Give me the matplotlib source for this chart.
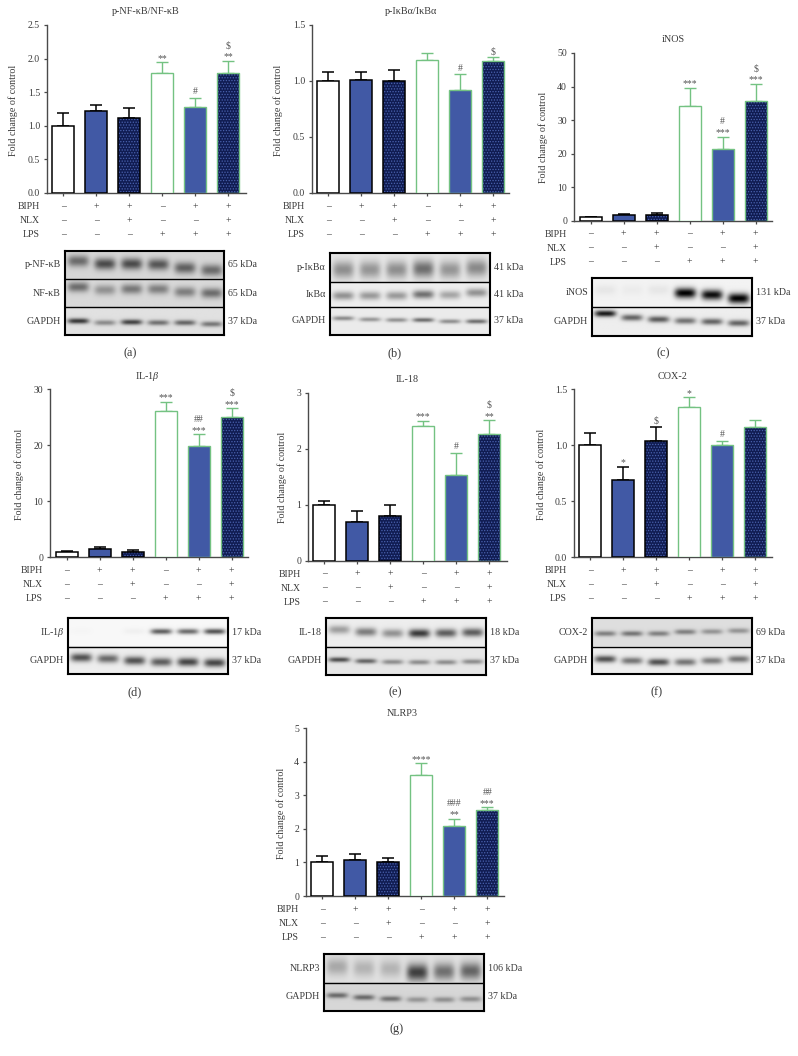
import numpy as np
import matplotlib
matplotlib.use('Agg')
import matplotlib.pyplot as plt

plt.rcParams['font.family'] = ['Liberation Serif', 'DejaVu Serif']
plt.rcParams['mathtext.fontset'] = 'custom'
plt.rcParams['mathtext.rm'] = 'Liberation Serif'
plt.rcParams['mathtext.it'] = 'Liberation Serif:italic'
plt.rcParams['hatch.linewidth'] = 0.6

figW, figH = 798, 1056
textCol = '#3a3a3a'
axisCol = '#4a4a4a'
blue = '#4159a5'
navy = '#101c52'
dots = '#4a62ae'
green = '#74c282'

biph = ['–', '+', '+', '–', '+', '+']
nlx = ['–', '–', '+', '–', '–', '+']
lps = ['–', '–', '–', '+', '+', '+']

# bar heights, tops of the error bars, marks over each bar
valsA = [1.0, 1.22, 1.12, 1.78, 1.28, 1.78]
topsA = [1.19, 1.31, 1.26, 1.95, 1.42, 1.97]
marksA = [[], [], [], ['**'], ['#'], ['**', '$']]
ticksA = [0.0, 0.5, 1.0, 1.5, 2.0, 2.5]

valsB = [1.0, 1.01, 1.0, 1.19, 0.92, 1.18]
topsB = [1.08, 1.08, 1.10, 1.25, 1.06, 1.21]
marksB = [[], [], [], [], ['#'], ['$']]
ticksB = [0.0, 0.5, 1.0, 1.5]

valsC = [1.0, 1.8, 1.8, 34.3, 21.5, 35.8]
topsC = [1.2, 1.9, 2.2, 39.7, 25.1, 40.9]
marksC = [[], [], [], ['***'], ['***', '#'], ['***', '$']]
ticksC = [0, 10, 20, 30, 40, 50]

valsD = [1.0, 1.4, 1.0, 26.2, 19.9, 25.0]
topsD = [1.1, 1.8, 1.25, 27.8, 22.0, 26.6]
marksD = [[], [], [], ['***'], ['***', '##'], ['***', '$']]
ticksD = [0, 10, 20, 30]

valsE = [1.0, 0.69, 0.8, 2.4, 1.53, 2.26]
topsE = [1.07, 0.89, 1.0, 2.5, 1.93, 2.51]
marksE = [[], [], [], ['***'], ['#'], ['**', '$']]
ticksE = [0, 1, 2, 3]

valsF = [1.0, 0.69, 1.04, 1.34, 1.0, 1.16]
topsF = [1.11, 0.81, 1.16, 1.43, 1.04, 1.23]
marksF = [[], ['*'], ['$'], ['*'], ['#'], []]
ticksF = [0.0, 0.5, 1.0, 1.5]

valsG = [1.0, 1.08, 1.0, 3.6, 2.1, 2.55]
topsG = [1.2, 1.25, 1.13, 3.96, 2.3, 2.65]
marksG = [[], [], [], ['****'], ['**', '###'], ['***', '##']]
ticksG = [0, 1, 2, 3, 4, 5]

# blot bands: darkness of each lane, height inside the strip (0 top, 1 bottom)
darkA = [[.5, .65, .65, .6, .55, .5], [.5, .33, .45, .42, .42, .5], [.75, .38, .7, .5, .55, .47]]
levelA = [[.39, .49, .49, .51, .63, .71], [.30, .40, .37, .37, .47, .51], [.49, .55, .53, .55, .55, .60]]
darkB = [[.38, .35, .38, .52, .35, .4], [.38, .35, .35, .52, .3, .38], [.4, .35, .37, .52, .38, .52]]
levelB = [[.58, .58, .58, .55, .58, .52], [.56, .56, .56, .51, .53, .44], [.41, .45, .47, .47, .52, .52]]
darkC = [[.05, .03, .05, 1, .95, 1], [.9, .58, .62, .52, .58, .58]]
levelC = [[.4, .4, .4, .51, .57, .69], [.21, .35, .41, .46, .49, .54]]
darkD = [[.01, 0, .03, .6, .55, .65], [.65, .55, .65, .6, .7, .7]]
levelD = [[.5, .5, .5, .5, .5, .5], [.42, .46, .53, .58, .58, .61]]
darkE = [[.33, .47, .38, .75, .6, .6], [.65, .55, .38, .38, .38, .38]]
levelE = [[.41, .49, .54, .54, .53, .51], [.47, .52, .55, .56, .56, .54]]
darkF = [[.42, .47, .42, .42, .33, .33], [.65, .5, .65, .5, .47, .5]]
levelF = [[.55, .55, .55, .49, .48, .45], [.46, .52, .57, .57, .52, .46]]
darkG = [[.25, .2, .2, .72, .5, .55], [.5, .5, .47, .3, .33, .33]]
levelG = [[.45, .5, .52, .65, .62, .6], [.46, .53, .58, .61, .61, .59]]

fig = plt.figure(figsize=(figW/100, figH/100), dpi=100, facecolor='white')

def pxAxes(left, top, right, bottom):
  return fig.add_axes([left/figW, 1 - bottom/figH, (right - left)/figW, (bottom - top)/figH])

def figText(x, y, s, **kw):
  kw.setdefault('color', textCol)
  kw.setdefault('va', 'center')
  fig.text(x/figW, 1 - y/figH, s, **kw)

def drawBars(ax, vals, tops, marks, ticks, tickFmt):
  xs = np.arange(6)
  for i in xs:
    edge = 'black' if i < 3 else green
    lw = 1.1 if i < 3 else 1.0
    up = tops[i] - vals[i]
    ax.errorbar(i, vals[i], yerr=[[0], [up]], color=edge, lw=lw, capsize=4.2, capthick=lw, zorder=2)
    kind = i % 3
    if kind == 0:
      ax.bar(i, vals[i], 0.667, color='white', edgecolor=edge, lw=lw, zorder=3)
    elif kind == 1:
      ax.bar(i, vals[i], 0.667, color=blue, edgecolor=edge, lw=lw, zorder=3)
    else:
      ax.bar(i, vals[i], 0.667, color=navy, edgecolor=dots, hatch='......', lw=0, zorder=3)
      ax.bar(i, vals[i], 0.667, color='none', edgecolor=edge, lw=lw, zorder=4)
    for n, m in enumerate(marks[i]):
      # asterisks sit high in the font, so they start lower than the others
      if m.startswith('*'):
        off = -0.5
      else:
        off = 1.0 + 6.5*n
      ax.annotate(m, (i, tops[i]), xytext=(0, off), textcoords='offset points', ha='center', va='bottom',
                  fontsize=7, color='#555555', annotation_clip=False)
  ax.set_xticks(xs)
  ax.set_xticklabels([])
  ax.set_yticks(ticks)
  ax.set_yticklabels([tickFmt % t for t in ticks], fontsize=7, color=textCol)
  ax.set_ylim(0, ticks[-1])
  ax.tick_params(length=2.5, width=0.9, color=axisCol, pad=2)
  ax.tick_params(axis='y', pad=2.5)
  for side in ['top', 'right']:
    ax.spines[side].set_visible(False)
  for side in ['left', 'bottom']:
    ax.spines[side].set_color(axisCol)
    ax.spines[side].set_linewidth(1.0)
  ax.patch.set_alpha(0)

def drawBlot(box, seps, dark, level, sigma, bg, names, sizes):
  left, top, right, bottom = box
  w = int(round(right - left))
  edges = [top] + seps + [bottom]
  ax = pxAxes(left, top, right, bottom)
  img = np.ones((int(round(bottom - top)), w))
  yy = np.arange(img.shape[0]) + top + 0.5
  xx = (np.arange(w) + 0.5)
  laneGap = w/6.0
  for r in range(len(dark)):
    inRow = (yy >= edges[r]) & (yy < edges[r + 1])
    rowImg = np.full((inRow.sum(), w), float(bg[r]))
    rowY = yy[inRow]
    for lane in range(6):
      cx = (lane + 0.5)*laneGap
      cy = edges[r] + level[r][lane]*(edges[r + 1] - edges[r])
      across = np.exp(-((xx - cx)/(laneGap*0.40))**4)
      down = np.exp(-0.5*((rowY - cy)/sigma[r])**2)
      rowImg -= bg[r]*dark[r][lane]*np.outer(down, across)
    img[inRow] = np.clip(rowImg, 0, 1)
    figText(left - 4, (edges[r] + edges[r + 1])/2, names[r], ha='right', fontsize=7.2)
    figText(right + 4, (edges[r] + edges[r + 1])/2, sizes[r], ha='left', fontsize=7.2)
  ax.imshow(img, cmap='gray', vmin=0, vmax=1, aspect='auto', extent=(left, right, bottom, top), interpolation='bilinear')
  for s in seps:
    ax.axhline(s, color='black', lw=1.0)
  ax.set_xticks([])
  ax.set_yticks([])
  for sp in ax.spines.values():
    sp.set_color('black')
    sp.set_linewidth(1.5)

def drawPanel(axBox, c0, title, titleXY, labelX, vals, tops, marks, ticks, tickFmt, caption, captionXY, blotArgs):
  left, top, right, bottom = axBox
  ax = pxAxes(left, top, right, bottom)
  step = 33.0
  ax.set_xlim((left - c0)/step, (right - c0)/step)
  drawBars(ax, vals, tops, marks, ticks, tickFmt)
  figText(titleXY[0], titleXY[1], title, ha='center', fontsize=7.3)
  figText(labelX, (top + bottom)/2 + 1, 'Fold change of control', ha='center', rotation=90, fontsize=7.2)
  rows = [('BIPH', biph, 13.5), ('NLX', nlx, 27.5), ('LPS', lps, 41.5)]
  for name, signs, dy in rows:
    figText(left - 7.5, bottom + dy, name, ha='right', fontsize=7)
    for i, s in enumerate(signs):
      figText(c0 + i*step, bottom + dy, s, ha='center', fontsize=7)
  figText(captionXY[0], captionXY[1], caption, ha='center', fontsize=8.8)
  drawBlot(*blotArgs)

beta = 'IL-1$\\beta$'

drawPanel((47, 25, 246, 193), 63.3, 'p-NF-κB/NF-κB', (146, 11.7), 13, valsA, topsA, marksA, ticksA, '%.1f', '(a)', (130, 353),
          ((65, 250.7, 224.3, 335), [278.7, 307.3], darkA, levelA, [4, 3.5, 1.9], [.84, .85, .88],
           ['p-NF-κB', 'NF-κB', 'GAPDH'], ['65 kDa', '65 kDa', '37 kDa']))
drawPanel((312, 25, 509, 193), 328.3, 'p-IκBα/IκBα', (410.7, 11.7), 278, valsB, topsB, marksB, ticksB, '%.1f', '(b)', (395, 353),
          ((330, 253, 490, 335), [281.7, 306.7], darkB, levelB, [6, 3, 1.6], [.90, .93, .92],
           ['p-IκBα', 'IκBα', 'GAPDH'], ['41 kDa', '41 kDa', '37 kDa']))
drawPanel((574, 53, 772, 220.7), 590.7, 'iNOS', (673, 40), 543, valsC, topsC, marksC, ticksC, '%d', '(c)', (663, 353),
          ((592.3, 278.3, 751.7, 335.7), [307.3], darkC, levelC, [3.5, 2.2], [.95, .93],
           ['iNOS', 'GAPDH'], ['131 kDa', '37 kDa']))
drawPanel((50, 389.3, 248, 557.3), 66.7, beta, (147.7, 376.7), 19, valsD, topsD, marksD, ticksD, '%d', '(d)', (135, 692),
          ((68.3, 617.7, 228.3, 674.3), [646.7], darkD, levelD, [2, 3], [.97, .93],
           [beta, 'GAPDH'], ['17 kDa', '37 kDa']))
drawPanel((308.3, 392.7, 506.7, 560.7), 324.3, 'IL-18', (407, 379), 282, valsE, topsE, marksE, ticksE, '%d', '(e)', (395.7, 692),
          ((326, 618.3, 486, 675), [646.7], darkE, levelE, [3, 1.8], [.93, .9],
           ['IL-18', 'GAPDH'], ['18 kDa', '37 kDa']))
drawPanel((574.3, 389.3, 772, 557.3), 590.3, 'COX-2', (673, 376.7), 541, valsF, topsF, marksF, ticksF, '%.1f', '(f)', (656.7, 692),
          ((591.7, 618.3, 751.7, 674.3), [646.7], darkF, levelF, [1.9, 2.5], [.87, .93],
           ['COX-2', 'GAPDH'], ['69 kDa', '37 kDa']))
drawPanel((306, 728.3, 504, 896), 322.3, 'NLRP3', (402, 714), 280.7, valsG, topsG, marksG, ticksG, '%d', '(g)', (396.7, 1029),
          ((324.3, 954.3, 484, 1011), [982.7], darkG, levelG, [6, 2], [.88, .84],
           ['NLRP3', 'GAPDH'], ['106 kDa', '37 kDa']))

fig.savefig('out.png', dpi=100)
